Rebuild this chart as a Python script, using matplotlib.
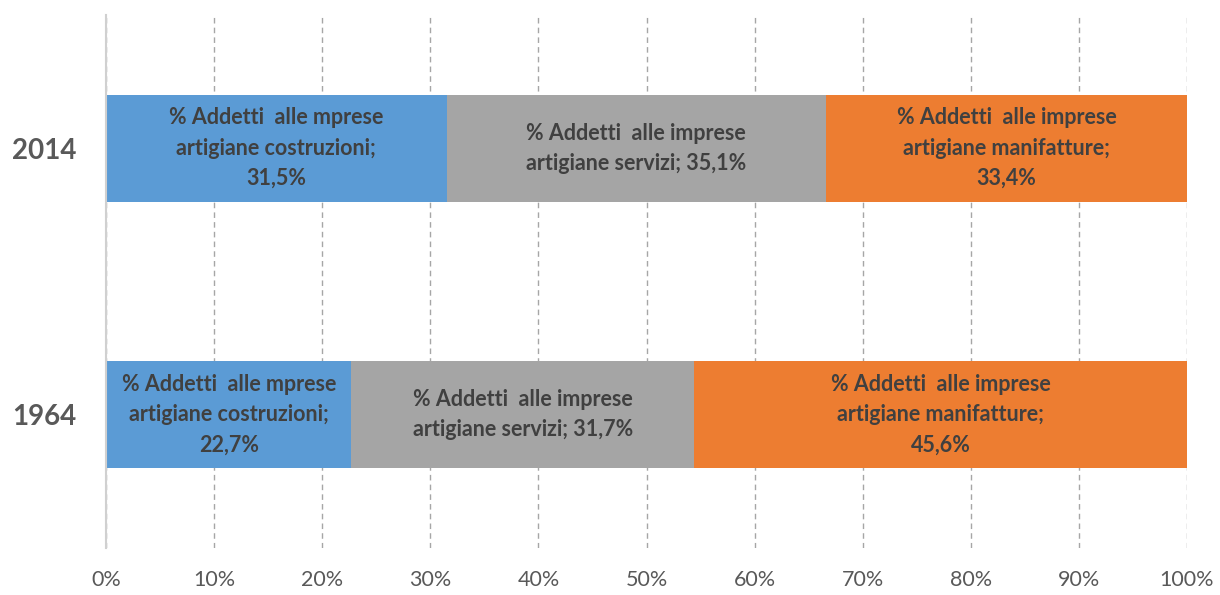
import numpy as np
import matplotlib.pyplot as plt
from matplotlib.ticker import PercentFormatter

#%% Dati
anni = ['1964', '2014']
costruzioni = [22.7, 31.5]
servizi = [31.7, 35.1]
manifatture = [45.6, 33.4]

etichette_costr = ['% Addetti  alle mprese\nartigiane costruzioni;\n{}%',
                   '% Addetti  alle mprese\nartigiane costruzioni;\n{}%']
etichette_serv = ['% Addetti  alle imprese\nartigiane servizi; {}%',
                  '% Addetti  alle imprese\nartigiane servizi; {}%']
etichette_manif = ['% Addetti  alle imprese\nartigiane manifatture;\n{}%',
                   '% Addetti  alle imprese\nartigiane manifatture;\n{}%']

colori = ['#5B9BD5', '#A5A5A5', '#ED7D31']

#%% Grafico
plt.rcParams['font.family'] = ['Lato', 'DejaVu Sans']
fig = plt.figure(figsize=(12.2, 5.95), dpi=100)
ax = fig.add_axes([106/1220, 1-548/595, (1187-106)/1220, (548-15)/595])

y = np.arange(len(anni))
serie = [costruzioni, servizi, manifatture]
testi = [etichette_costr, etichette_serv, etichette_manif]
left = np.zeros(len(anni))
for valori, etich, col in zip(serie, testi, colori):
    ax.barh(y, valori, left=left, height=0.4, color=col, zorder=3)
    for i, v in enumerate(valori):
        txt = etich[i].format(str(v).replace('.', ','))
        ax.text(left[i] + v/2, y[i], txt, ha='center', va='center',
                fontsize=15.5, fontweight='bold', color='#404040',
                linespacing=1.55, zorder=4)
    left += np.array(valori)

ax.set_xlim(0, 100)
ax.set_ylim(-0.5, 1.5)
ax.set_xticks(np.arange(0, 101, 10))
ax.xaxis.set_major_formatter(PercentFormatter(decimals=0))
ax.set_yticks(y)
ax.set_yticklabels(anni, fontsize=20, fontweight='bold', color='#595959')
ax.tick_params(axis='x', length=0, labelsize=15.5, labelcolor='#595959', pad=16)
ax.tick_params(axis='y', length=0, pad=21)
ax.grid(axis='x', color='#A6A6A6', linestyle=(0, (4, 3)), linewidth=1, zorder=0)
for s in ['top', 'right', 'bottom']:
    ax.spines[s].set_visible(False)
ax.spines['left'].set_color('#D0D0D0')
ax.spines['left'].set_linewidth(1.5)
ax.spines['left'].set_zorder(5)

plt.savefig('out.png', dpi=100)
